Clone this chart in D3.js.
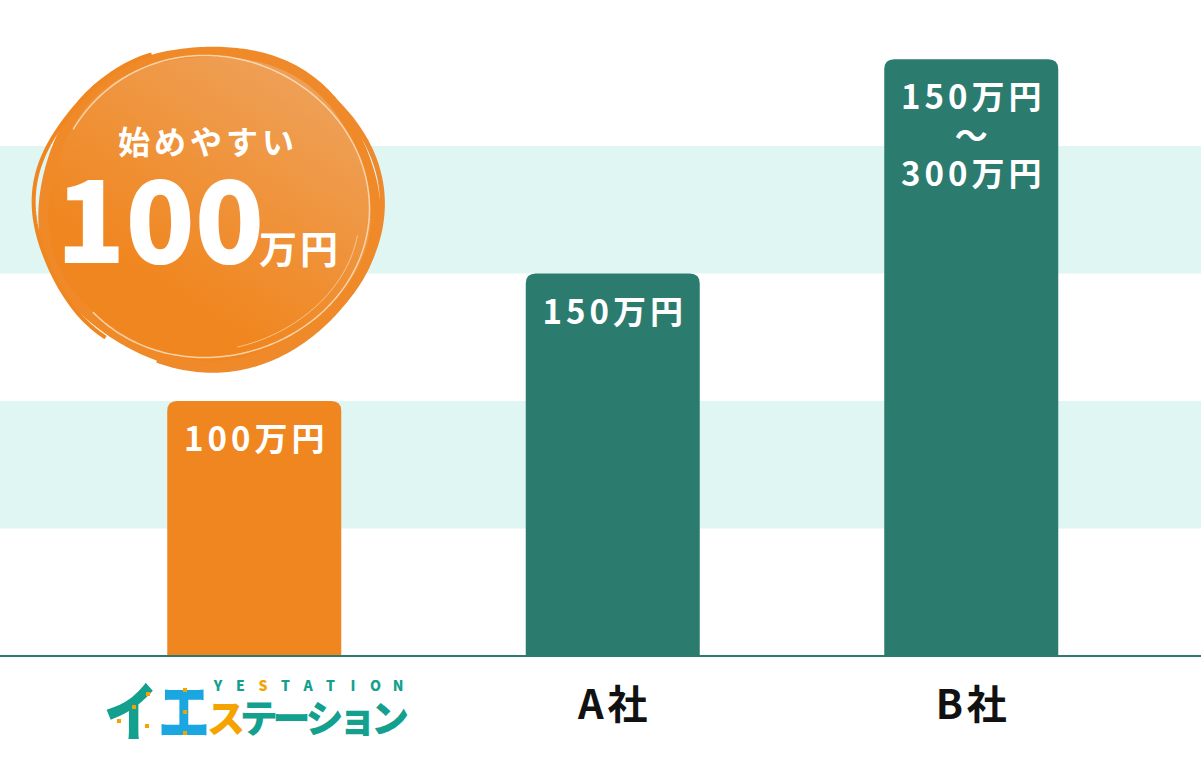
<!DOCTYPE html>
<html><head><meta charset="utf-8">
<script src="https://cdn.jsdelivr.net/npm/d3@7"></script>
<style>
html,body{margin:0;padding:0;background:#fff;}
svg{display:block;}
text{font-family:"Noto Sans CJK JP","Noto Sans",sans-serif;}
</style></head>
<body>
<script>
const categories = ["イエステーション", "A社", "B社"];
const values = [100, 150, 234];
const valueLabels = [["100万円"], ["150万円"], ["150万円", "〜", "300万円"]];
const barColors = ["#f08620", "#2b7b6f", "#2b7b6f"];
const shadedBands = [[50, 100], [150, 200]];
const badgeTop = "始めやすい";
const badgeNumber = "100";
const badgeUnit = "万円";
const logoLatin = "YESTATION";
const logoKana = "ステーション";

const W = 1201, H = 768;
const svg = d3.select("body").append("svg").attr("width", W).attr("height", H);

const y = d3.scaleLinear().domain([0, 250]).range([656, 18.5]);
const p = 1 - 174 / 358.5;
const x = d3.scaleBand().domain(categories).range([75, 1150.5]).paddingInner(p).paddingOuter(p / 2);

// background bands
svg.append("g").selectAll("rect").data(shadedBands).join("rect")
  .attr("x", 0).attr("width", W)
  .attr("y", d => y(d[1])).attr("height", d => y(d[0]) - y(d[1]))
  .attr("fill", "#dff6f3");

// bars with rounded top corners
const r = 10;
function barPath(x0, w, yTop, yBot) {
  return `M${x0},${yBot}V${yTop + r}Q${x0},${yTop} ${x0 + r},${yTop}H${x0 + w - r}Q${x0 + w},${yTop} ${x0 + w},${yTop + r}V${yBot}Z`;
}
svg.append("g").selectAll("path").data(values).join("path")
  .attr("d", (d, i) => barPath(x(categories[i]), x.bandwidth(), y(d), y(0)))
  .attr("fill", (d, i) => barColors[i]);

// baseline
svg.append("line").attr("x1", 0).attr("x2", W).attr("y1", y(0)).attr("y2", y(0))
  .attr("stroke", "#2b7b6f").attr("stroke-width", 2);

// value labels
const lblG = svg.append("g");
values.forEach((v, i) => {
  const cx = x(categories[i]) + x.bandwidth() / 2;
  valueLabels[i].forEach((t, j) => {
    lblG.append("text").attr("x", cx + 2).attr("y", y(v) + 50 + j * 38.5)
      .attr("text-anchor", "middle").attr("fill", "#fff")
      .attr("font-size", 33).attr("font-weight", 700).attr("letter-spacing", 4)
      .text(t);
  });
});

// category labels (A社, B社)
svg.append("g").selectAll("text").data(categories.slice(1)).join("text")
  .attr("x", d => x(d) + x.bandwidth() / 2 + 2).attr("y", 719)
  .attr("text-anchor", "middle").attr("font-size", 40).attr("font-weight", 700)
  .attr("letter-spacing", 4).attr("fill", "#111").text(d => d);

// logo for first category
const lg = svg.append("g");
lg.append("text").attr("x", 104).attr("y", 735).attr("font-size", 64).attr("font-weight", 900)
  .attr("fill", "#14a08e").attr("textLength", 54).attr("lengthAdjust", "spacingAndGlyphs").text("イ");
lg.append("text").attr("x", 158).attr("y", 735).attr("font-size", 64).attr("font-weight", 900)
  .attr("fill", "#1aa6e0").attr("textLength", 52).attr("lengthAdjust", "spacingAndGlyphs").text("エ");
const latX = d3.scalePoint().domain(d3.range(logoLatin.length)).range([218, 398]);
lg.append("g").selectAll("text").data(logoLatin.split("")).join("text")
  .attr("x", (d, i) => latX(i)).attr("y", 691).attr("text-anchor", "middle")
  .attr("font-size", 14).attr("font-weight", 900)
  .attr("fill", (d, i) => i === 2 ? "#f5a300" : "#14a08e").text(d => d);
const kanaX = d3.scalePoint().domain(d3.range(logoKana.length)).range([226, 390]);
lg.append("g").selectAll("text").data(logoKana.split("")).join("text")
  .attr("x", (d, i) => kanaX(i)).attr("y", 732).attr("text-anchor", "middle")
  .attr("font-size", 38).attr("font-weight", 900)
  .attr("fill", (d, i) => i === 0 ? "#f5a300" : "#14a08e").text(d => d);
// small orange dots of the logo
[[117, 719], [146, 692], [132, 705], [145, 724], [183, 688], [183, 710], [183, 731]].forEach(([a, b]) => {
  lg.append("rect").attr("x", a).attr("y", b).attr("width", 4).attr("height", 4).attr("fill", "#f5a300");
});

// badge circle
const defs = svg.append("defs");
const grad = defs.append("linearGradient").attr("id", "bg").attr("x1", "0.85").attr("y1", "0").attr("x2", "0.35").attr("y2", "0.75");
grad.append("stop").attr("offset", "0").attr("stop-color", "#eea45f");
grad.append("stop").attr("offset", "1").attr("stop-color", "#f0861f");

const bc = [209, 207];
const badge = svg.append("g");
function roughRing(rx, ry, amp, freq, phase, a0, a1) {
  const pts = d3.range(a0, a1, 0.02).map(t => {
    const k = 1 + amp * Math.sin(freq * t + phase);
    return [bc[0] + rx * k * Math.cos(t), bc[1] + ry * k * Math.sin(t)];
  });
  return d3.line()(pts);
}
badge.append("ellipse").attr("cx", bc[0]).attr("cy", bc[1]).attr("rx", 165).attr("ry", 156).attr("fill", "url(#bg)");
badge.append("path").attr("d", roughRing(166, 157, 0.012, 5, 0.3, 0, Math.PI * 2.02))
  .attr("fill", "none").attr("stroke", "#f08a28").attr("stroke-width", 10);
badge.append("path").attr("d", roughRing(159, 151, 0.01, 3, 1.2, -2.6, 2.4))
  .attr("fill", "none").attr("stroke", "#fde3c8").attr("stroke-width", 1.5).attr("opacity", 0.8);
badge.append("path").attr("d", roughRing(171, 161, 0.015, 4, 2.0, -1.2, 1.9))
  .attr("fill", "none").attr("stroke", "#ef8a2c").attr("stroke-width", 5);
badge.append("path").attr("d", roughRing(174, 160, 0.01, 6, 0.8, 2.2, 4.4))
  .attr("fill", "none").attr("stroke", "#f08620").attr("stroke-width", 4);
badge.append("path").attr("d", roughRing(150, 143, 0.01, 4, 0.5, 0.2, 1.4))
  .attr("fill", "none").attr("stroke", "#fbd9b6").attr("stroke-width", 1).attr("opacity", 0.7);

badge.append("text").attr("x", 208).attr("y", 154).attr("text-anchor", "middle")
  .attr("font-size", 32).attr("font-weight", 700).attr("letter-spacing", 4).attr("fill", "#fff").text(badgeTop);
badge.append("text").attr("x", 56).attr("y", 263)
  .attr("font-size", 114).attr("font-weight", 900).attr("fill", "#fff").text(badgeNumber);
badge.append("text").attr("x", 259).attr("y", 263)
  .attr("font-size", 38).attr("font-weight", 700).attr("letter-spacing", 3).attr("fill", "#fff").text(badgeUnit);
</script>
</body></html>
